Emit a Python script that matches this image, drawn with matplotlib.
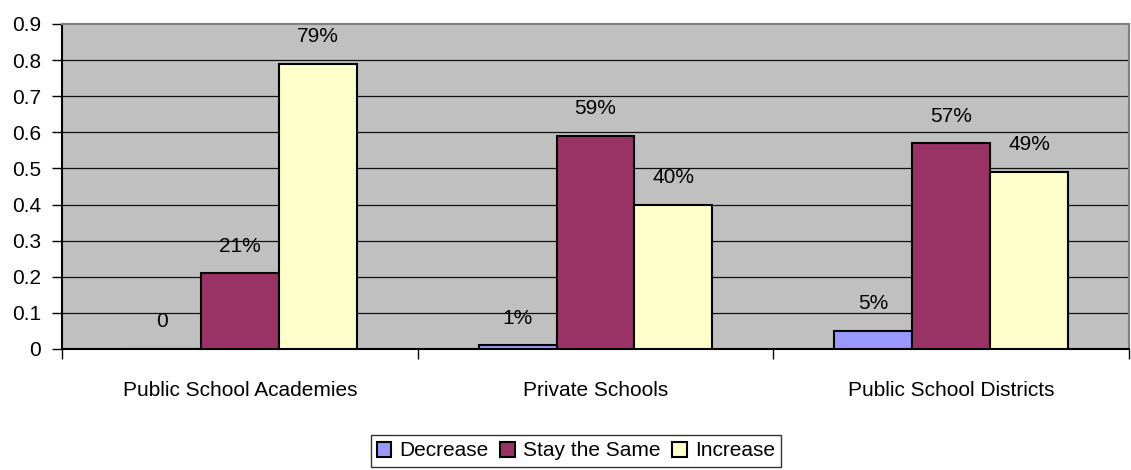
import numpy as np
import matplotlib.pyplot as plt
from matplotlib.patches import Patch

plt.rcParams['font.family'] = ['Liberation Sans', 'DejaVu Sans']

# survey results per school type
categories = ["Public School Academies", "Private Schools", "Public School Districts"]
series_names = ["Decrease", "Stay the Same", "Increase"]
decrease = [0.00, 0.01, 0.05]
stay_same = [0.21, 0.59, 0.57]
increase = [0.79, 0.40, 0.49]
y_ticks = [0, 0.1, 0.2, 0.3, 0.4, 0.5, 0.6, 0.7, 0.8, 0.9]

colors = ["#9999FF", "#993366", "#FFFFCC"]

fig = plt.figure(figsize=(11.31, 4.7), dpi=100)
ax = fig.add_axes([62 / 1131, 1 - 349 / 470, (1129 - 62) / 1131, (349 - 24) / 470])
ax.set_facecolor("#C0C0C0")

x = np.arange(len(categories))
width = 0.219
all_series = [decrease, stay_same, increase]
for i, (vals, name, col) in enumerate(zip(all_series, series_names, colors)):
    pos = x + (i - 1) * width
    ax.bar(pos, vals, width, color=col, edgecolor="black", linewidth=1.5, zorder=3)
    for px, v in zip(pos, vals):
        lbl = "0" if v == 0 else f"{v:.0%}"
        ax.annotate(lbl, (px, v), xytext=(0, 19.5), textcoords="offset points",
                    ha="center", va="center", fontsize=15, zorder=4)

ax.set_xlim(-0.5, len(categories) - 0.5)
ax.set_ylim(0, 0.9)
ax.set_yticks(y_ticks)
ax.set_yticklabels([f"{t:g}" for t in y_ticks], fontsize=15)
for t in y_ticks[1:-1]:
    ax.axhline(t, color="#111111", linewidth=0.9, zorder=1)

# category boundaries as major ticks, names on minor ticks
ax.set_xticks(np.arange(len(categories) + 1) - 0.5)
ax.set_xticklabels([])
ax.set_xticks(x, minor=True)
ax.set_xticklabels(categories, minor=True, fontsize=15)
ax.tick_params(axis="x", which="major", length=7, width=1, direction="out", color="black")
ax.tick_params(axis="x", which="minor", length=0, pad=23)
ax.tick_params(axis="y", length=7, width=1, direction="out", pad=8)

ax.spines["left"].set_color("black")
ax.spines["left"].set_linewidth(1.5)
ax.spines["bottom"].set_color("black")
ax.spines["bottom"].set_linewidth(1.5)
ax.spines["top"].set_color("#808080")
ax.spines["top"].set_linewidth(1.5)
ax.spines["right"].set_color("#808080")
ax.spines["right"].set_linewidth(1.5)

handles = [Patch(facecolor=c, edgecolor="black", linewidth=1.5, label=n)
           for c, n in zip(colors, series_names)]
leg = fig.legend(handles=handles, loc="center", bbox_to_anchor=(576 / 1131, 1 - 451 / 470),
                 ncol=3, fontsize=15, frameon=True, fancybox=False, edgecolor="black",
                 handlelength=0.7, handleheight=0.7, handletextpad=0.4, columnspacing=0.55,
                 borderpad=0.3, borderaxespad=0.2)
leg.get_frame().set_linewidth(1.0)

fig.savefig("out.png", dpi=100)
